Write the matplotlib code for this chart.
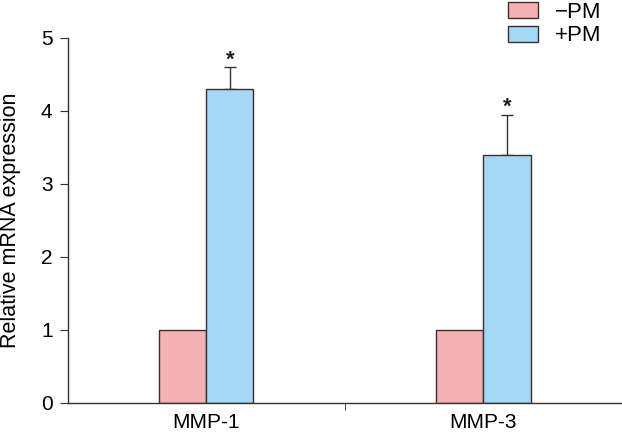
import matplotlib
matplotlib.use("Agg")
import matplotlib.pyplot as plt
import numpy as np

plt.rcParams['font.family'] = ['Liberation Sans', 'DejaVu Sans']

genes = ['MMP-1', 'MMP-3']
minus_pm = [1.0, 1.0]
plus_pm = [4.3, 3.4]
plus_err = [0.3, 0.55]
groups = ['\u2212PM', '+PM']
colors = ['#f4b2b4', '#a4d8f4']
edge = '#3b2f2f'

fig = plt.figure(figsize=(6.22, 4.36), dpi=100)
ax = fig.add_axes([0.109, 0.076, 0.891, 0.837])

x = np.arange(len(genes))
w = 0.17
ax.bar(x - w / 2, minus_pm, w, color=colors[0], edgecolor=edge, linewidth=1, label=groups[0], zorder=2)
ax.bar(x + w / 2, plus_pm, w, color=colors[1], edgecolor=edge, linewidth=1, label=groups[1], zorder=2)
ax.errorbar(x + w / 2, plus_pm, yerr=[np.zeros(len(genes)), plus_err], fmt='none',
            ecolor=edge, elinewidth=1, capsize=4.3, capthick=1, zorder=1)

# significance marks
for xi, v, e in zip(x, plus_pm, plus_err):
    ax.text(xi + w / 2, v + e + 0.02, '*', ha='center', va='baseline', fontsize=16,
            fontweight='bold', color='#222222')

ax.set_xlim(-0.5, 1.5)
ax.set_ylim(0, 5)
ax.set_xticks(x)
ax.set_xticklabels(genes, fontsize=15)
ax.set_xticks([0.5], minor=True)
ax.tick_params(axis='x', which='major', length=0, pad=7.5)
ax.tick_params(axis='x', which='minor', length=5, direction='out', color=edge)
ax.set_yticks(range(6))
ax.tick_params(axis='y', length=6, direction='out', labelsize=15, color=edge, pad=5)
ax.set_ylabel('Relative mRNA expression', fontsize=15.5)
ax.yaxis.set_label_coords(-0.085, 0.5)

for s in ['top', 'right']:
    ax.spines[s].set_visible(False)
for s in ['left', 'bottom']:
    ax.spines[s].set_color(edge)
    ax.spines[s].set_linewidth(1)

handles, labels = ax.get_legend_handles_labels()
fig.legend(handles, labels, loc='upper left', bbox_to_anchor=(0.817, 0.996), frameon=False,
           fontsize=16, handlelength=1.35, handleheight=0.72, handletextpad=0.75,
           labelspacing=0.12, borderaxespad=0, borderpad=0)

fig.savefig('out.png', dpi=100)
